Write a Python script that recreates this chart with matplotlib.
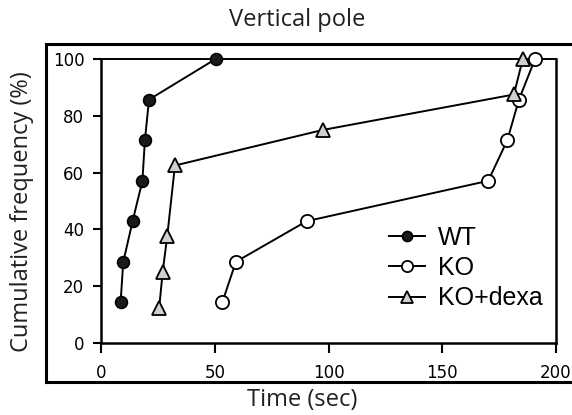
import matplotlib
matplotlib.use("Agg")
import matplotlib.pyplot as plt

# cumulative frequency (%) vs time to descend (sec)
wt_time = [8.6, 9.8, 13.9, 18.2, 19.3, 21.1, 50.4]
wt_freq = [14.3, 28.6, 42.9, 57.1, 71.4, 85.7, 100.0]

ko_time = [53.3, 59.3, 90.4, 170.2, 178.6, 183.7, 190.8]
ko_freq = [14.3, 28.6, 42.9, 57.1, 71.4, 85.7, 100.0]

dexa_time = [25.6, 27.1, 29.1, 32.5, 97.4, 181.5, 185.4]
dexa_freq = [12.5, 25.0, 37.5, 62.5, 75.0, 87.5, 100.0]

xticks = [0, 50, 100, 150, 200]
yticks = [0, 20, 40, 60, 80, 100]

W, H = 572, 415
fig = plt.figure(figsize=(W / 100, H / 100), dpi=100)

# outer frame box (open on the right, as in the figure)
outer = fig.add_axes([46 / W, 1 - 382 / H, 1 - 46 / W + 0.01, (382 - 44) / H])
outer.set_xticks([]); outer.set_yticks([])
for s in outer.spines.values():
    s.set_linewidth(2.2)
outer.spines["right"].set_visible(False)
outer.set_zorder(0)

# inner plot (scanned graph)
ax = fig.add_axes([101 / W, 1 - 343 / H, (556 - 101) / W, (343 - 59) / H])
ax.patch.set_alpha(0)
ax.set_zorder(1)
ax.set_xlim(0, 200)
ax.set_ylim(0, 100)
ax.set_xticks(xticks)
ax.set_yticks(yticks)
ax.tick_params(direction="out", length=6, width=1.5, labelsize=12, pad=6)
ax.tick_params(axis="x", length=7, pad=8)
for lab in ax.get_xticklabels() + ax.get_yticklabels():
    lab.set_family("DejaVu Sans")
ax.spines["left"].set_linewidth(1.8)
ax.spines["bottom"].set_linewidth(1.8)
ax.spines["top"].set_linewidth(1.4)
ax.spines["right"].set_linewidth(1.8)

ax.plot(wt_time, wt_freq, "-o", color="black", lw=1.4, ms=8.5,
        mfc="#1a1a1a", mec="black", mew=1.2, clip_on=False, label="WT", zorder=3)
ax.plot(ko_time, ko_freq, "-o", color="black", lw=1.4, ms=9.5,
        mfc="white", mec="black", mew=1.3, clip_on=False, label="KO", zorder=3)
ax.plot(dexa_time, dexa_freq, "-^", color="black", lw=1.4, ms=10,
        mfc="#d0d0d0", mec="black", mew=1.3, clip_on=False, label="KO+dexa", zorder=4)

leg = ax.legend(loc="center left", bbox_to_anchor=(389 / W, 1 - 268 / H),
                bbox_transform=fig.transFigure, frameon=False,
                prop={"family": "Liberation Sans", "size": 18},
                handlelength=1.45, handletextpad=0.5, labelspacing=0.25,
                borderpad=0, borderaxespad=0, markerscale=0.85)

txt = "#231f20"
fig.text(297 / W, 1 - 20 / H, "Vertical pole", ha="center", va="center",
         family="Open Sans", fontsize=17, color=txt)
fig.text(302 / W, 1 - 400 / H, "Time (sec)", ha="center", va="center",
         family="Open Sans", fontsize=17, color=txt)
fig.text(22 / W, 1 - 212 / H, "Cumulative frequency (%)", ha="center", va="center",
         rotation=90, family="Open Sans", fontsize=17, color=txt)

fig.savefig("out.png", dpi=100)
